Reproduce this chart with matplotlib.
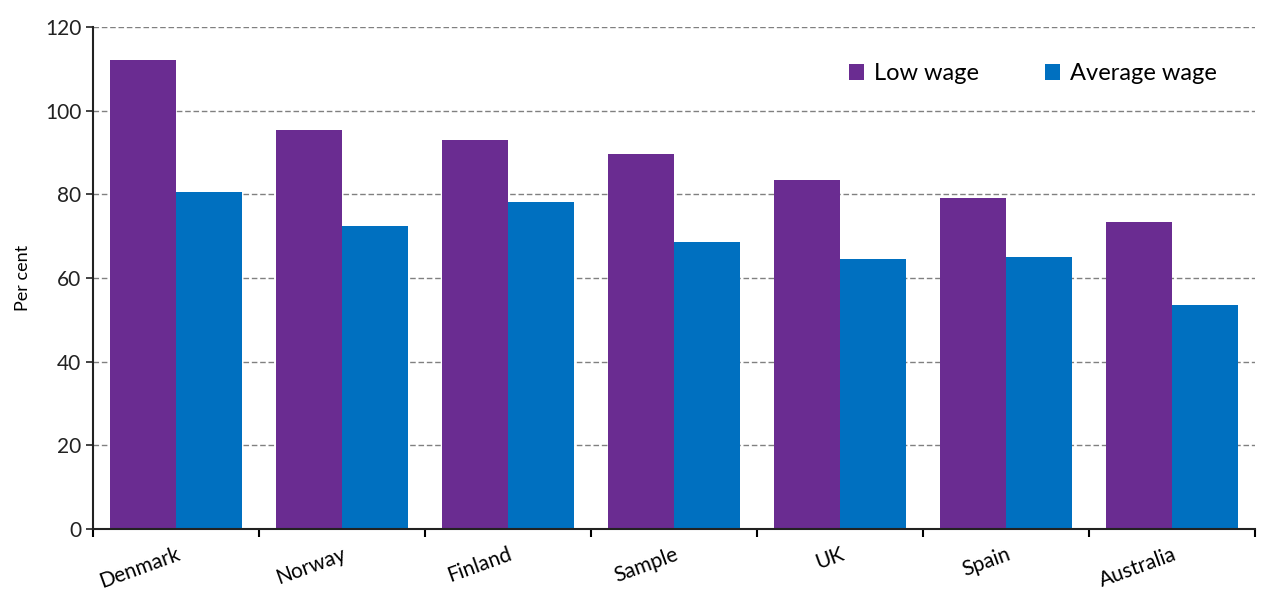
import numpy as np
import matplotlib
matplotlib.use('Agg')
import matplotlib.pyplot as plt

countries = ['Denmark', 'Norway', 'Finland', 'Sample', 'UK', 'Spain', 'Australia']
low_wage = [112.1, 95.4, 93.0, 89.6, 83.4, 79.1, 73.4]
avg_wage = [80.6, 72.4, 78.2, 68.6, 64.5, 65.0, 53.5]

plt.rcParams['font.family'] = ['Lato', 'DejaVu Sans']

fig = plt.figure(figsize=(12.62, 5.93), dpi=100)
ax = fig.add_axes([0.0737, 0.108, 0.9208, 0.8465])

x = np.arange(len(countries))
w = 0.4
ax.bar(x - w/2, low_wage, w, color='#6A2C91', label='Low wage', zorder=2)
ax.bar(x + w/2, avg_wage, w, color='#0070C0', label='Average wage', zorder=2)

ax.set_ylim(0, 120)
ax.set_xlim(-0.5, len(countries) - 0.5)
ax.set_yticks(range(0, 121, 20))
ax.yaxis.grid(True, linestyle=(0, (4, 2)), color='#808080', linewidth=1, zorder=0)
ax.set_axisbelow(True)

ax.set_xticks(x)
ax.set_xticklabels(countries, rotation=20, ha='right', rotation_mode='anchor', fontsize=15)
ax.tick_params(axis='x', which='major', length=0, pad=11)
ax.set_xticks(np.arange(-0.5, len(countries), 1), minor=True)
ax.tick_params(axis='x', which='minor', length=6, width=1.5, direction='out')
ax.tick_params(axis='y', labelsize=15, length=5, width=1.2, colors='#222222')

for s in ['top', 'right']:
    ax.spines[s].set_visible(False)
ax.spines['left'].set_linewidth(1.5)
ax.spines['bottom'].set_linewidth(1.5)
ax.spines['left'].set_color('#222222')
ax.spines['bottom'].set_color('#222222')

ax.set_ylabel('Per cent', fontsize=13, labelpad=10)

ax.legend(loc='upper right', ncol=2, frameon=False, fontsize=17,
          handlelength=0.65, handleheight=0.65, columnspacing=2.8,
          handletextpad=0.4, bbox_to_anchor=(0.985, 0.97))

fig.savefig('out.png', dpi=100)
